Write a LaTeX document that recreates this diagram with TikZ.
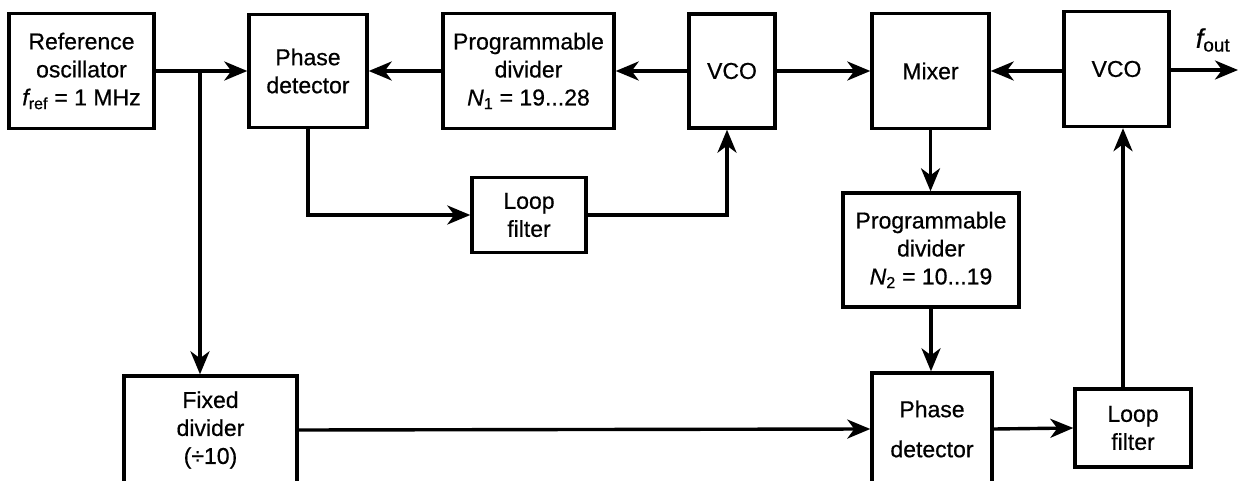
\documentclass[tikz,border=0pt]{standalone}
\usepackage{fontspec}
\setmainfont{Liberation Sans}[FakeBold=0.6]
\usetikzlibrary{arrows.meta,calc}
\begin{document}
\begin{tikzpicture}[x=1pt,y=-1pt,line width=3.4pt,
  blk/.style={draw,line width=3.4pt,align=center,inner sep=0pt,font=\fontsize{23}{28}\selectfont},
  lbl/.style={inner sep=0pt,font=\fontsize{27}{28}\selectfont},
  arr/.style={-{Stealth[length=23pt,width=19pt,inset=7pt]}}]
\path[use as bounding box] (0,0) rectangle (1239,481);
\clip (0,0) rectangle (1239,481);
% top row
\node[blk,minimum width=145pt,minimum height=115pt] (ref) at (81.5,71) {Reference\\oscillator\\{\itshape f}\textsubscript{ref} = 1 MHz};
\node[blk,minimum width=118pt,minimum height=113pt] (pd1) at (308,71) {Phase\\detector};
\node[blk,minimum width=171pt,minimum height=115pt] (pdiv1) at (528.5,71) {Programmable\\divider\\{\itshape N}\textsubscript{1} = 19...28};
\node[blk,minimum width=86pt,minimum height=114pt] (vco1) at (732,71) {VCO};
\node[blk,minimum width=117pt,minimum height=115pt] (mix) at (930.5,71) {Mixer};
\node[blk,minimum width=105pt,minimum height=115pt] (vco2) at (1116.5,69) {VCO};
% middle
\node[blk,minimum width=114pt,minimum height=75pt] (lf1) at (529,215) {Loop\\filter};
\node[blk,minimum width=176pt,minimum height=114pt] (pdiv2) at (931,250) {Programmable\\divider\\{\itshape N}\textsubscript{2} = 10...19};
% bottom
\node[blk,minimum width=173pt,minimum height=108pt] (fdiv) at (210.5,430) {Fixed\\divider\\(÷10)};
\node[blk,minimum width=120pt,minimum height=112pt] (pd2) at (932,429) {Phase\\[12pt]detector};
\node[blk,minimum width=116pt,minimum height=78pt] (lf2) at (1133,428) {Loop\\filter};
% output
\node[lbl] (fout) at (1213,40) {{\itshape f}\textsubscript{out}};
\coordinate (outend) at (1238,70);
\coordinate (br) at (200,71);
% connectors
\draw[arr] (ref.east) -- (pd1.west);
\draw[arr] (br) -- (br |- fdiv.north);
\draw[arr] (pdiv1.west) -- (pd1.east);
\draw[arr] (vco1.west) -- (pdiv1.east);
\draw[arr] (pd1.south) |- (lf1.west);
\draw[arr] (lf1.east) -| ([xshift=-5pt]vco1.south);
\draw[arr] (vco1.east) -- (mix.west);
\draw[arr] (vco2.west |- mix.east) -- (mix.east);
\draw[arr] (vco2.east |- outend) -- (outend);
\draw[arr] (mix.south) -- (mix.south |- pdiv2.north);
\draw[arr] (pdiv2.south) -- (pdiv2.south |- pd2.north);
\draw[arr] (fdiv.east) -- (pd2.west);
\draw[arr] (pd2.east) -- (lf2.west);
\draw[arr] ([xshift=-10pt]lf2.north) -- ([xshift=-10pt]lf2.north |- vco2.south);
\end{tikzpicture}
\end{document}
